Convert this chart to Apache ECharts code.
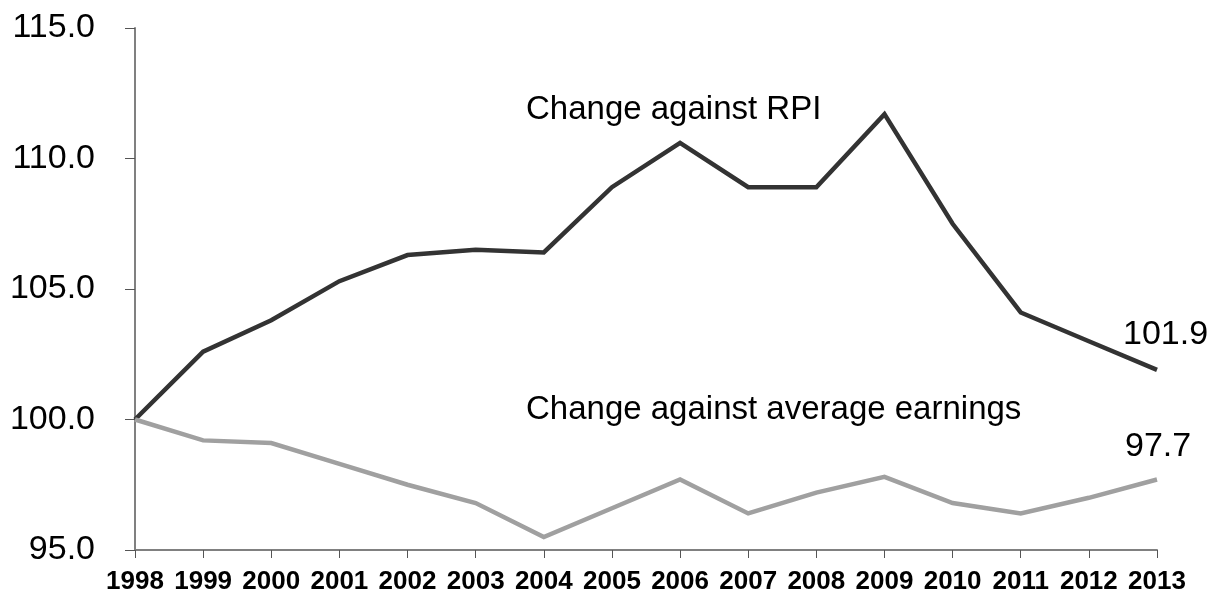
<!DOCTYPE html>
<html>
<head>
<meta charset="utf-8">
<script src="https://cdn.jsdelivr.net/npm/echarts@6/dist/echarts.min.js"></script>
<style>
  html, body { margin: 0; padding: 0; background: #fff; }
  #chart { width: 1213px; height: 595px; }
</style>
</head>
<body>
<div id="chart"></div>
<script>
// years on the x axis
const years = ['1998', '1999', '2000', '2001', '2002', '2003', '2004', '2005',
  '2006', '2007', '2008', '2009', '2010', '2011', '2012', '2013']
// index, 1998 = 100
const rpiChange = [100, 102.6, 103.8, 105.3, 106.3, 106.5, 106.4, 108.9,
  110.6, 108.9, 108.9, 111.7, 107.5, 104.1, 103.0, 101.9]
const earningsChange = [100, 99.2, 99.1, 98.3, 97.5, 96.8, 95.5, 96.6,
  97.7, 96.4, 97.2, 97.8, 96.8, 96.4, 97.0, 97.7]
const seriesNames = ['Change against RPI', 'Change against average earnings']

const FONT = 'Liberation Sans, Arial, sans-serif'

// value shown above the last point of a line
function endLabel(offset) {
  return {
    show: true,
    distance: 0,
    align: 'left',
    verticalAlign: 'middle',
    offset: offset,
    formatter: (p) => Number(p.value).toFixed(1),
    color: '#000',
    fontFamily: FONT,
    fontSize: 34
  }
}

const chart = echarts.init(document.getElementById('chart'))

const option = {
  backgroundColor: '#fff',
  animation: false,
  grid: { left: 135, right: 56, top: 28, bottom: 44 },
  xAxis: {
    type: 'category',
    data: years,
    boundaryGap: false,
    axisLine: { lineStyle: { color: '#808080', width: 2 } },
    axisTick: { alignWithLabel: true, length: 8, lineStyle: { color: '#555', width: 1 } },
    axisLabel: {
      margin: 19,
      color: '#000',
      fontFamily: FONT,
      fontSize: 26,
      fontWeight: 'bold',
      interval: 0
    },
    splitLine: { show: false }
  },
  yAxis: {
    type: 'value',
    min: 95,
    max: 115,
    interval: 5,
    axisLine: { show: true, lineStyle: { color: '#808080', width: 2 } },
    axisTick: { show: true, length: 10, lineStyle: { color: '#555', width: 1 } },
    axisLabel: {
      margin: 40,
      color: '#000',
      fontFamily: FONT,
      fontSize: 34,
      formatter: (v) => v.toFixed(1)
    },
    splitLine: { show: false }
  },
  graphic: [
    {
      type: 'text',
      left: 526,
      top: 93,
      style: { text: seriesNames[0], fill: '#000', font: '33px ' + FONT }
    },
    {
      type: 'text',
      left: 526,
      top: 393,
      style: { text: seriesNames[1], fill: '#000', font: '33px ' + FONT }
    }
  ],
  series: [
    {
      name: seriesNames[0],
      type: 'line',
      data: rpiChange,
      symbol: 'none',
      lineStyle: { color: '#333333', width: 4.5, join: 'miter' },
      endLabel: endLabel([-34, -35])
    },
    {
      name: seriesNames[1],
      type: 'line',
      data: earningsChange,
      symbol: 'none',
      lineStyle: { color: '#a0a0a0', width: 4.5, join: 'miter' },
      endLabel: endLabel([-32, -33])
    }
  ]
}

chart.setOption(option)
</script>
</body>
</html>
